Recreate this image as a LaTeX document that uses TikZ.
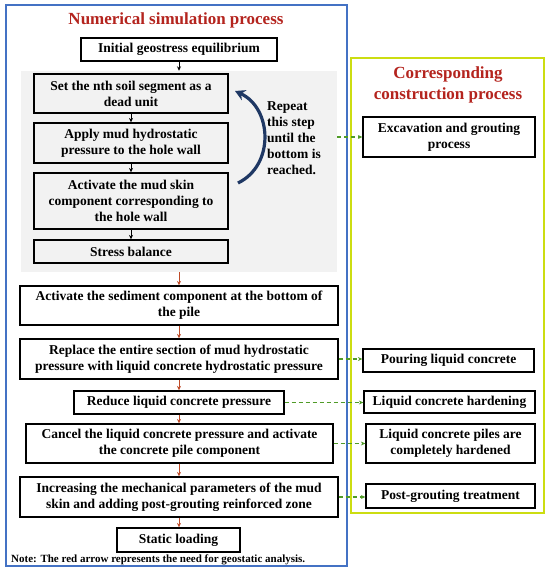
\documentclass[tikz,border=0pt]{standalone}
\usepackage{fontspec}
\setmainfont{Liberation Serif}
\usetikzlibrary{arrows.meta,positioning}

\definecolor{titlered}{RGB}{180,36,30}
\definecolor{flowred}{RGB}{190,75,40}
\definecolor{frameblue}{RGB}{68,114,196}
\definecolor{frameyellow}{RGB}{204,221,17}
\definecolor{linkgreen}{RGB}{80,155,40}
\definecolor{loopgray}{RGB}{242,242,242}
\definecolor{loopnavy}{RGB}{31,56,100}

\tikzset{
  stepbox/.style={draw, line width=1.3pt, fill=white, align=center, inner sep=1pt,
    font=\fontsize{13.5}{16}\selectfont\bfseries},
  loopbox/.style={stepbox, fill=loopgray},
  flow/.style={-{Stealth[length=4.5pt,width=4pt]}, line width=0.9pt},
  redflow/.style={flow, flowred},
  link/.style={-{Stealth[length=4.5pt,width=4pt]}, dash pattern=on 4pt off 3pt, line width=1.1pt, linkgreen},
}

\begin{document}
\begin{tikzpicture}[x=1pt,y=-1pt]
  \useasboundingbox (0,0) rectangle (550,576);

  % Rahmen
  \draw[frameblue, line width=1.8pt] (6,5) rectangle (347,566);
  \draw[frameyellow, line width=1.8pt] (351,58) rectangle (544,513);

  \node[text=titlered, font=\fontsize{17}{20}\selectfont\bfseries] (numtitle) at (176,20) {Numerical simulation process};
  \node[text=titlered, align=center, font=\fontsize{17}{21}\selectfont\bfseries] (contitle) at (448,84.5) {Corresponding\\construction process};

  % Schleife
  \node[fill=loopgray, inner sep=0pt, minimum width=316pt, minimum height=201pt] (loop) at (179,171.5) {};

  \node[stepbox, minimum width=196pt, minimum height=23pt] (init) at (179,49.5) {Initial geostress equilibrium};
  \node[loopbox, minimum width=194pt, minimum height=39pt] (dead) at (131,93.5) {Set the nth soil segment as a\\dead unit};
  \node[loopbox, minimum width=194pt, minimum height=40pt] (mud) at (131,143) {Apply mud hydrostatic\\pressure to the hole wall};
  \node[loopbox, minimum width=194pt, minimum height=56pt] (skin) at (131,201) {Activate the mud skin\\component corresponding to\\the hole wall};
  \node[loopbox, minimum width=194pt, minimum height=23pt] (balance) at (131,251.5) {Stress balance};

  \node[anchor=north west, align=left, inner sep=0pt, font=\fontsize{13.5}{16}\selectfont\bfseries] (repeat) at (267,101) {Repeat\\this step\\until the\\bottom is\\reached.};
  \coordinate (rptfrom) at (238,183);
  \coordinate (rpttip) at (235,91);
  \draw[loopnavy, line width=3.2pt, -{Stealth[length=10pt,width=11pt]}] (rptfrom) .. controls (275,165) and (272,108) .. (rpttip);

  % Hauptablauf
  \node[stepbox, minimum width=318pt, minimum height=39pt] (sed) at (179,305.5) {Activate the sediment component at the bottom of\\the pile};
  \node[stepbox, minimum width=318pt, minimum height=40pt] (repl) at (179,359) {Replace the entire section of mud hydrostatic\\pressure with liquid concrete hydrostatic pressure};
  \node[stepbox, minimum width=210pt, minimum height=23pt] (reduce) at (179,402.5) {Reduce liquid concrete pressure};
  \node[stepbox, minimum width=307pt, minimum height=39pt] (cancel) at (179.5,443.5) {Cancel the liquid concrete pressure and activate\\the concrete pile component};
  \node[stepbox, minimum width=318pt, minimum height=40pt] (incr) at (179,497) {Increasing the mechanical parameters of the mud\\skin and adding post-grouting reinforced zone};
  \node[stepbox, minimum width=123pt, minimum height=24pt] (static) at (178.5,540) {Static loading};

  \node[anchor=west, inner sep=0pt, font=\fontsize{11}{12}\selectfont\bfseries] (note) at (11,560) {Note: The red arrow represents the need for geostatic analysis.};

  % Bauablauf
  \node[stepbox, minimum width=172pt, minimum height=40pt] (exc) at (449,137) {Excavation and grouting\\process};
  \node[stepbox, minimum width=171pt, minimum height=23pt] (pour) at (448.5,360.5) {Pouring liquid concrete};
  \node[stepbox, minimum width=171pt, minimum height=22pt] (hard) at (449.5,402) {Liquid concrete hardening};
  \node[stepbox, minimum width=169pt, minimum height=39pt] (piles) at (450.5,443.5) {Liquid concrete piles are\\completely hardened};
  \node[stepbox, minimum width=169pt, minimum height=24pt] (post) at (450.5,496) {Post-grouting treatment};

  % Pfeile
  \draw[flow] (init.south) -- (init.south |- loop.north);
  \draw[flow] (dead) -- (mud);
  \draw[flow] (mud) -- (skin);
  \draw[flow] (skin) -- (balance);

  \draw[redflow] (loop.south) -- (sed.north);
  \draw[redflow] (sed) -- (repl);
  \draw[redflow] (repl) -- (reduce);
  \draw[redflow] (reduce) -- (cancel.north -| reduce);
  \draw[redflow] (cancel.south -| reduce) -- (incr.north -| reduce);
  \draw[redflow] (incr.south -| reduce) -- (static.north -| reduce);

  \draw[link] (loop.east |- exc) -- (exc.west);
  \draw[link] (repl.east) -- (repl.east -| pour.west);
  \draw[link] (reduce.east) -- (reduce.east -| hard.west);
  \draw[link] (cancel.east) -- (cancel.east -| piles.west);
  \draw[link] (incr.east) -- (incr.east -| post.west);
\end{tikzpicture}
\end{document}
